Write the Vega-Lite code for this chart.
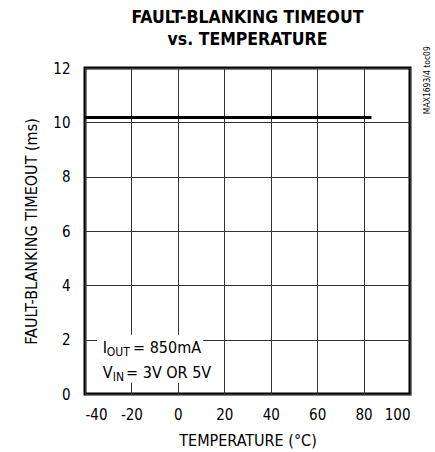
{
  "$schema": "https://vega.github.io/schema/vega-lite/v6.json",
  "autosize": "none",
  "width": 325,
  "height": 326,
  "padding": {"left": 85, "top": 68, "right": 25, "bottom": 58},
  "background": "white",
  "title": {
    "text": ["FAULT-BLANKING TIMEOUT", "vs. TEMPERATURE"],
    "font": "DejaVu Sans Condensed, sans-serif",
    "fontSize": 17.5,
    "fontWeight": "bold",
    "color": "black",
    "anchor": "middle",
    "frame": "group",
    "lineHeight": 22,
    "offset": 22,
    "dy": 24
  },
  "view": {"stroke": "black", "strokeWidth": 3},
  "config": {
    "font": "DejaVu Sans Condensed, sans-serif",
    "axis": {
      "grid": true,
      "gridColor": "#333333",
      "gridWidth": 1,
      "gridOpacity": 1,
      "domain": false,
      "ticks": false,
      "tickSize": 0,
      "labelFont": "DejaVu Sans Condensed, sans-serif",
      "labelFontSize": 15,
      "labelColor": "black",
      "titleFont": "DejaVu Sans Condensed, sans-serif",
      "titleFontSize": 16,
      "titleFontWeight": "normal",
      "titleColor": "black"
    }
  },
  "datasets": {
    "series": [
      {"temp": -40, "timeout": 10.18},
      {"temp": 83.4, "timeout": 10.18}
    ],
    "box": [
      {"x1": -34.8, "x2": 10.9, "y1": 0.41, "y2": 2.18}
    ],
    "mainText": [
      {"x": -32.4, "y": 1.51, "t": "I"},
      {"x": -19.3, "y": 1.51, "t": "= 850mA"},
      {"x": -32.4, "y": 0.59, "t": "V"},
      {"x": -22.3, "y": 0.59, "t": "= 3V OR 5V"}
    ],
    "subText": [
      {"x": -30.6, "y": 1.40, "t": "OUT"},
      {"x": -28.0, "y": 0.48, "t": "IN"}
    ],
    "note": [
      {"x": 100, "y": 10.3, "t": "MAX1693/4 toc09"}
    ]
  },
  "layer": [
    {
      "data": {"name": "box"},
      "mark": {"type": "rect", "fill": "white", "stroke": null},
      "encoding": {
        "x": {"field": "x1", "type": "quantitative", "scale": {"domain": [-40, 100], "nice": false}},
        "x2": {"field": "x2"},
        "y": {"field": "y1", "type": "quantitative", "scale": {"domain": [0, 12], "nice": false}},
        "y2": {"field": "y2"}
      }
    },
    {
      "data": {"name": "series"},
      "mark": {"type": "line", "color": "black", "strokeWidth": 3},
      "encoding": {
        "x": {
          "field": "temp", "type": "quantitative",
          "scale": {"domain": [-40, 100], "nice": false},
          "axis": {"values": [-40, -20, 0, 20, 40, 60, 80, 100], "labelExpr": "datum.value < 0 ? '-' + abs(datum.value) : '' + datum.value", "title": "TEMPERATURE (°C)", "labelPadding": 13, "titlePadding": 10}
        },
        "y": {
          "field": "timeout", "type": "quantitative",
          "scale": {"domain": [0, 12], "nice": false},
          "axis": {"values": [0, 2, 4, 6, 8, 10, 12], "title": "FAULT-BLANKING TIMEOUT (ms)", "labelPadding": 15, "titlePadding": 13}
        }
      }
    },
    {
      "data": {"name": "mainText"},
      "mark": {"type": "text", "align": "left", "baseline": "alphabetic", "fontSize": 16, "color": "black"},
      "encoding": {
        "x": {"field": "x", "type": "quantitative"},
        "y": {"field": "y", "type": "quantitative"},
        "text": {"field": "t"}
      }
    },
    {
      "data": {"name": "subText"},
      "mark": {"type": "text", "align": "left", "baseline": "alphabetic", "fontSize": 12, "color": "black"},
      "encoding": {
        "x": {"field": "x", "type": "quantitative"},
        "y": {"field": "y", "type": "quantitative"},
        "text": {"field": "t"}
      }
    },
    {
      "data": {"name": "note"},
      "mark": {"type": "text", "align": "left", "baseline": "middle", "angle": 270, "fontSize": 8.5, "dy": 17, "color": "black"},
      "encoding": {
        "x": {"field": "x", "type": "quantitative"},
        "y": {"field": "y", "type": "quantitative"},
        "text": {"field": "t"}
      }
    }
  ]
}
